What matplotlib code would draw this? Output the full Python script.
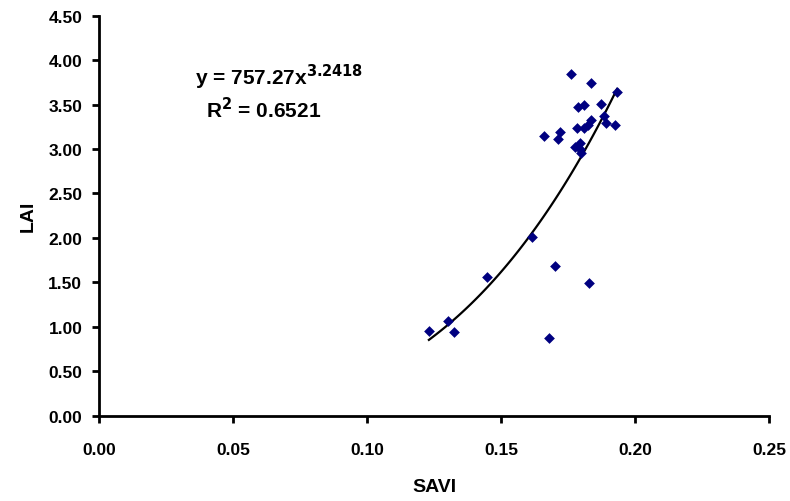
import numpy as np
import matplotlib.pyplot as plt

plt.rcParams['font.family'] = ['Liberation Sans', 'DejaVu Sans']
plt.rcParams['font.weight'] = 'bold'

# SAVI / LAI samples
savi = [0.1763, 0.1837, 0.1933, 0.1787, 0.1809, 0.1872, 0.1883, 0.1837,
        0.1890, 0.1927, 0.1825, 0.1809, 0.1784, 0.1659, 0.1719, 0.1714,
        0.1775, 0.1794, 0.1794, 0.1800, 0.1617, 0.1703, 0.1827, 0.1449,
        0.1231, 0.1303, 0.1325, 0.1679]
lai = [3.842, 3.748, 3.646, 3.477, 3.497, 3.511, 3.369, 3.331,
       3.294, 3.268, 3.271, 3.238, 3.238, 3.147, 3.189, 3.117,
       3.027, 3.069, 3.001, 2.959, 2.007, 1.687, 1.492, 1.563,
       0.951, 1.060, 0.937, 0.876]

# power trend line
coef_a = 757.27
coef_b = 3.2418

fig = plt.figure(figsize=(7.9, 5.02), dpi=100)
ax = fig.add_axes([0.1253, 0.1703, 0.8481, 0.7964])

ax.scatter(savi, lai, marker='D', s=30, color='#000080', zorder=3, linewidths=0)

xs = np.linspace(min(savi), max(savi), 100)
ax.plot(xs, coef_a * xs ** coef_b, color='black', lw=1.6, zorder=2)

ax.set_xlim(0, 0.25)
ax.set_ylim(0, 4.5)
ax.set_xticks(np.arange(0, 0.2501, 0.05))
ax.set_yticks(np.arange(0, 4.501, 0.5))
ax.xaxis.set_major_formatter(plt.FormatStrFormatter('%.2f'))
ax.yaxis.set_major_formatter(plt.FormatStrFormatter('%.2f'))

for s in ['top', 'right']:
  ax.spines[s].set_visible(False)
for s in ['left', 'bottom']:
  ax.spines[s].set_linewidth(2)
ax.tick_params(width=2, length=5, labelsize=12.5)
ax.tick_params(axis='y', pad=7)
ax.tick_params(axis='x', pad=14)

ax.set_xlabel('SAVI', fontsize=14, fontweight='bold', labelpad=15)
ax.set_ylabel('LAI', fontsize=14, fontweight='bold', labelpad=8)

fig.text(0.353, 0.845, 'y = 757.27x$^{\\mathbf{3.2418}}$', ha='center', va='center',
         fontsize=15, fontweight='bold')
fig.text(0.334, 0.781, 'R$^{\\mathbf{2}}$ = 0.6521', ha='center', va='center',
         fontsize=15, fontweight='bold')

fig.savefig('out.png', dpi=100)
